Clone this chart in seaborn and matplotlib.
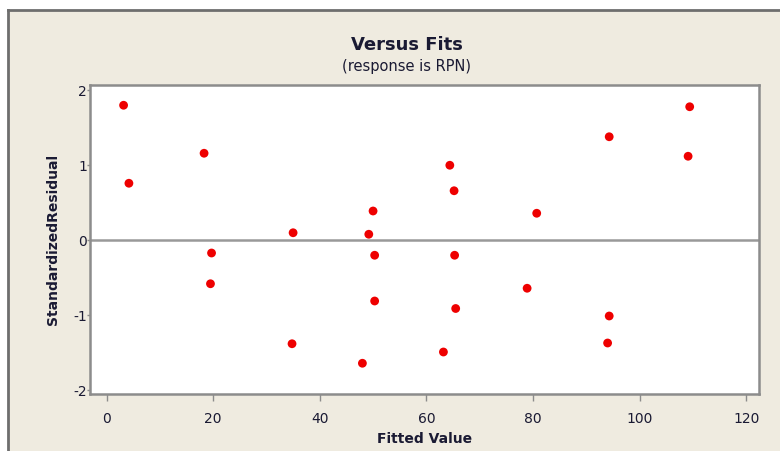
"""
Minitab-style residual plot: standardized residual versus fitted value.
"""

import matplotlib.pyplot as plt
import pandas as pd
import seaborn as sns

# ── Data ─────────────────────────────────────────────────────────────

fitted = [3.2, 4.2, 18.3, 19.7, 19.5, 35.0, 34.8, 48.0, 49.2, 50.0,
          50.3, 50.3, 63.2, 64.4, 65.2, 65.3, 65.5, 78.9, 80.7, 94.3,
          94.3, 94.0, 109.4, 109.1]
std_resid = [1.80, 0.76, 1.16, -0.17, -0.58, 0.10, -1.38, -1.64, 0.08, 0.39,
             -0.20, -0.81, -1.49, 1.00, 0.66, -0.20, -0.91, -0.64, 0.36, 1.38,
             -1.01, -1.37, 1.78, 1.12]

x_ticks = [0, 20, 40, 60, 80, 100, 120]
y_ticks = [-2, -1, 0, 1, 2]

df = pd.DataFrame({"Fitted Value": fitted, "Standardized Residual": std_resid})

# ── Theme ────────────────────────────────────────────────────────────

sns.set_theme(style="white")
plt.rcParams["font.family"] = ["DejaVu Sans"]
plt.rcParams["axes.unicode_minus"] = False

BG = "#EFEBE0"
FRAME = "#8C8C8C"
TEXT = "#1A1A33"

fig = plt.figure(figsize=(7.8, 4.51), dpi=100, facecolor="white")

# beige graph window with a dark top/left border
win = fig.add_axes([8 / 780, 0, 1 - 8 / 780, 1 - 10 / 451])
win.set_facecolor(BG)
win.set_xticks([])
win.set_yticks([])
for side in ("right", "bottom"):
    win.spines[side].set_visible(False)
for side in ("top", "left"):
    win.spines[side].set_color("#6E6E6E")
    win.spines[side].set_linewidth(2)

ax = fig.add_axes([90 / 780, 57 / 451, 669 / 780, 309 / 451])
ax.set_facecolor("white")

sns.scatterplot(
    data=df, x="Fitted Value", y="Standardized Residual", ax=ax,
    color="#EE0000", s=40, edgecolor="none", zorder=3,
)
ax.axhline(0, color="#999999", lw=1.8, zorder=2)

ax.set_xlim(-3.1, 122.4)
ax.set_ylim(-2.05, 2.07)
ax.set_xticks(x_ticks)
ax.set_yticks(y_ticks)
ax.tick_params(axis="x", direction="out", length=5, width=1, color=FRAME,
               labelsize=10, labelcolor=TEXT, pad=8, bottom=True)
ax.tick_params(axis="y", direction="out", length=2, width=1, color=FRAME,
               labelsize=10, labelcolor=TEXT, pad=0, left=True)
for s in ax.spines.values():
    s.set_color(FRAME)
    s.set_linewidth(1.8)

ax.set_xlabel("Fitted Value", fontsize=10, fontweight="bold", color=TEXT, labelpad=4)
ax.set_ylabel("StandardizedResidual", fontsize=10, fontweight="bold", color=TEXT, labelpad=10)

fig.text(407 / 780, 1 - 45 / 451, "Versus Fits", ha="center", va="center",
         fontsize=13, fontweight="bold", color=TEXT)
fig.text(407 / 780, 1 - 67 / 451, "(response is RPN)", ha="center", va="center",
         fontsize=10.5, color=TEXT)

fig.savefig("out.png", dpi=100, facecolor=fig.get_facecolor())
plt.close(fig)
